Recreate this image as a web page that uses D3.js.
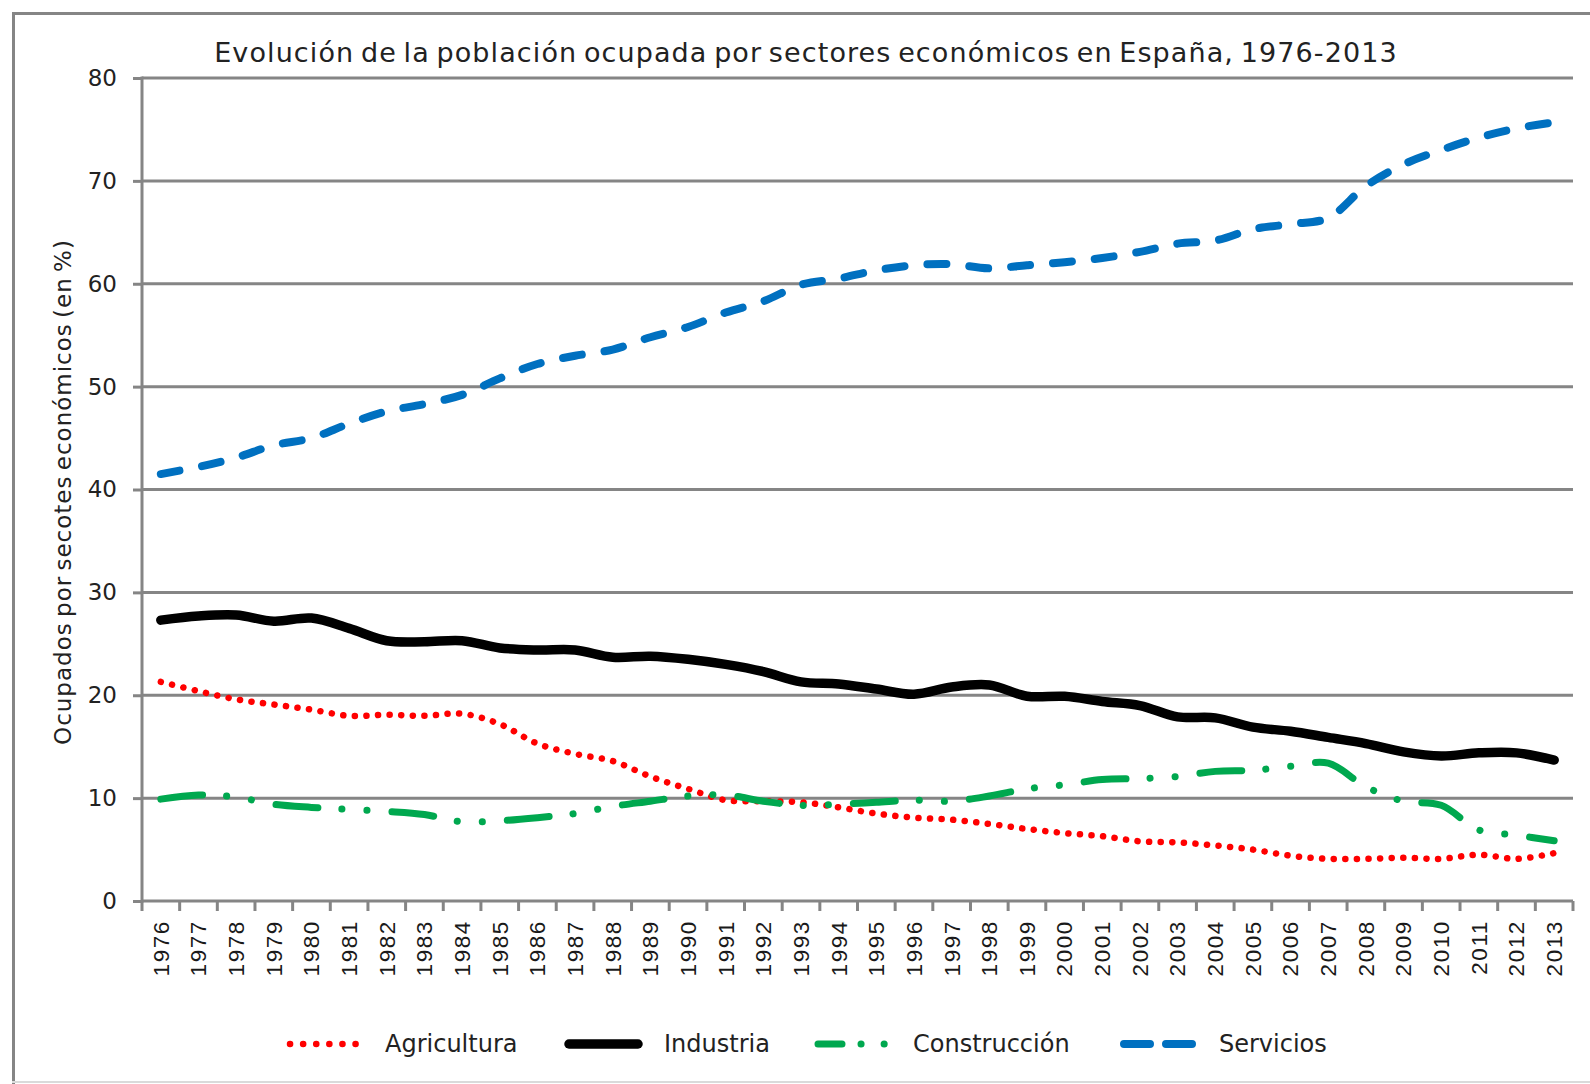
<!DOCTYPE html>
<html>
<head>
<meta charset="utf-8">
<script src="https://cdn.jsdelivr.net/npm/d3@7"></script>
<style>
  body { margin: 0; background: #fff; }
  svg { display: block; }
</style>
</head>
<body>
<div id="chart"></div>
<script>
// datos (% de ocupados)
var years = d3.range(1976, 2014).map(String);

var agricultura = [21.3, 20.4, 19.6, 19.1, 18.6, 18.0, 18.1, 18.0, 18.2, 17.2,
  15.3, 14.3, 13.6, 12.1, 10.9, 9.8, 9.7, 9.6, 9.1, 8.5,
  8.1, 7.9, 7.5, 7.0, 6.6, 6.3, 5.8, 5.7, 5.4, 5.0,
  4.4, 4.1, 4.1, 4.2, 4.1, 4.5, 4.1, 4.65];

var industria = [27.3, 27.7, 27.8, 27.2, 27.5, 26.5, 25.3, 25.2, 25.3, 24.6,
  24.4, 24.4, 23.7, 23.8, 23.5, 23.0, 22.3, 21.3, 21.1, 20.6,
  20.1, 20.8, 21.0, 19.9, 19.9, 19.4, 19.0, 17.9, 17.8, 16.9,
  16.5, 15.9, 15.3, 14.5, 14.1, 14.4, 14.4, 13.7];

var construccion = [9.9, 10.3, 10.1, 9.4, 9.1, 8.9, 8.7, 8.4, 7.7, 7.8,
  8.1, 8.5, 9.2, 9.7, 10.2, 10.3, 9.7, 9.3, 9.4, 9.6,
  9.8, 9.7, 10.2, 10.9, 11.3, 11.8, 11.9, 12.1, 12.6, 12.7,
  13.1, 13.4, 11.1, 9.7, 9.3, 6.9, 6.4, 5.85];

var servicios = [41.5, 42.2, 43.1, 44.3, 45.0, 46.4, 47.6, 48.3, 49.2, 50.8,
  52.2, 53.0, 53.6, 54.8, 55.8, 57.2, 58.3, 59.9, 60.5, 61.3,
  61.8, 61.9, 61.5, 61.8, 62.1, 62.5, 63.1, 63.9, 64.2, 65.3,
  65.8, 66.4, 69.5, 71.6, 73.0, 74.2, 75.1, 75.7];

var yTicks = [0, 10, 20, 30, 40, 50, 60, 70, 80];

var titulo = "Evolución de la población ocupada por sectores económicos en España, 1976-2013";
var tituloEjeY = "Ocupados por secotes económicos (en %)";

var series = [
  { name: "Agricultura", values: agricultura, color: "#ff0000", width: 6.5, dash: "0.1,11.5", legendDash: "0.1,13" },
  { name: "Industria", values: industria, color: "#000000", width: 9.5, dash: null, legendDash: null },
  { name: "Construcción", values: construccion, color: "#00a84f", width: 7, dash: "42,24,0.1,25,0.1,25", legendDash: "24,19,0.1,23,0.1,40" },
  { name: "Servicios", values: servicios, color: "#0070c0", width: 8, dash: "19,23", legendDash: "26,16" }
];

draw_chart();

function draw_chart() {
  var W = 1590, H = 1084;
  var plotLeft = 142, plotRight = 1573, plotTop = 78, plotBottom = 901;
  var grey = "#858585";

  var svg = d3.select("#chart").append("svg")
    .attr("width", W)
    .attr("height", H);

  // marco exterior
  svg.append("line").attr("x1", 13.5).attr("x2", 13.5).attr("y1", 12).attr("y2", H)
    .attr("stroke", grey).attr("stroke-width", 3);
  svg.append("line").attr("x1", 12).attr("x2", W).attr("y1", 13.5).attr("y2", 13.5)
    .attr("stroke", grey).attr("stroke-width", 3);
  svg.append("line").attr("x1", 12).attr("x2", W).attr("y1", 1082).attr("y2", 1082)
    .attr("stroke", "#dadada").attr("stroke-width", 2);

  var x = d3.scaleBand().domain(years).range([plotLeft, plotRight]).padding(0);
  var y = d3.scaleLinear().domain([0, 80]).range([plotBottom, plotTop]);

  // rejilla + eje y
  svg.append("g")
    .selectAll("line")
    .data(yTicks)
    .enter().append("line")
    .attr("x1", plotLeft)
    .attr("x2", plotRight)
    .attr("y1", function (d) { return y(d); })
    .attr("y2", function (d) { return y(d); })
    .attr("stroke", grey)
    .attr("stroke-width", 3);

  var gy = svg.append("g")
    .attr("transform", "translate(" + plotLeft + ",0)")
    .call(d3.axisLeft(y).tickValues(yTicks).tickSize(9).tickPadding(16));
  gy.select(".domain").remove();
  gy.selectAll(".tick line").attr("stroke", grey).attr("stroke-width", 3);
  gy.selectAll(".tick text")
    .attr("font-family", "'DejaVu Sans', sans-serif")
    .attr("font-size", 23)
    .attr("fill", "#222");

  svg.append("line")
    .attr("x1", plotLeft).attr("x2", plotLeft)
    .attr("y1", plotTop - 1.5).attr("y2", plotBottom + 1.5)
    .attr("stroke", grey).attr("stroke-width", 3);

  // eje x: marcas entre categorias
  var bounds = years.map(function (d) { return x(d); }).concat([x.range()[1]]);
  svg.append("g")
    .selectAll("line")
    .data(bounds)
    .enter().append("line")
    .attr("x1", function (d) { return d; })
    .attr("x2", function (d) { return d; })
    .attr("y1", plotBottom)
    .attr("y2", plotBottom + 10)
    .attr("stroke", grey)
    .attr("stroke-width", 3);

  var gx = svg.append("g")
    .attr("transform", "translate(0," + plotBottom + ")")
    .call(d3.axisBottom(x).tickSize(0).tickPadding(0));
  gx.select(".domain").remove();
  gx.selectAll(".tick text")
    .attr("font-family", "'Liberation Sans', Arial, sans-serif")
    .attr("font-size", 22.5)
    .attr("letter-spacing", "1.6px")
    .attr("fill", "#1a1a1a")
    .attr("text-anchor", "end")
    .attr("dy", "0.35em")
    .attr("y", 0)
    .attr("transform", "translate(0,19) rotate(-90)");

  // series
  var line = d3.line()
    .x(function (d, i) { return x(years[i]) + x.bandwidth() / 2; })
    .y(function (d) { return y(d); })
    .curve(d3.curveCatmullRom.alpha(0.5));

  series.forEach(function (s) {
    svg.append("path")
      .datum(s.values)
      .attr("d", line)
      .attr("fill", "none")
      .attr("stroke", s.color)
      .attr("stroke-width", s.width)
      .attr("stroke-linecap", "round")
      .attr("stroke-linejoin", "round")
      .attr("stroke-dasharray", s.dash);
  });

  // titulos
  svg.append("text")
    .attr("x", 806)
    .attr("y", 62)
    .attr("text-anchor", "middle")
    .attr("font-family", "'DejaVu Sans', sans-serif")
    .attr("font-size", 27)
    .attr("letter-spacing", "1.1px")
    .attr("word-spacing", "-3px")
    .attr("fill", "#222")
    .text(titulo);

  svg.append("text")
    .attr("transform", "translate(71,492) rotate(-90)")
    .attr("text-anchor", "middle")
    .attr("font-family", "'DejaVu Sans', sans-serif")
    .attr("font-size", 23)
    .attr("letter-spacing", "1px")
    .attr("word-spacing", "-3px")
    .attr("fill", "#222")
    .text(tituloEjeY);

  // leyenda
  var legendX = [287, 566, 815, 1121];
  var legend = svg.append("g").selectAll("g")
    .data(series)
    .enter().append("g")
    .attr("transform", function (d, i) { return "translate(" + legendX[i] + ",1044)"; });

  legend.append("line")
    .attr("x1", 3)
    .attr("x2", 72)
    .attr("stroke", function (d) { return d.color; })
    .attr("stroke-width", function (d) { return d.width; })
    .attr("stroke-linecap", "round")
    .attr("stroke-dasharray", function (d) { return d.legendDash; });

  legend.append("text")
    .attr("x", 98)
    .attr("dy", "0.35em")
    .attr("font-family", "'DejaVu Sans', sans-serif")
    .attr("font-size", 24)
    .attr("fill", "#222")
    .text(function (d) { return d.name; });
}
</script>
</body>
</html>
